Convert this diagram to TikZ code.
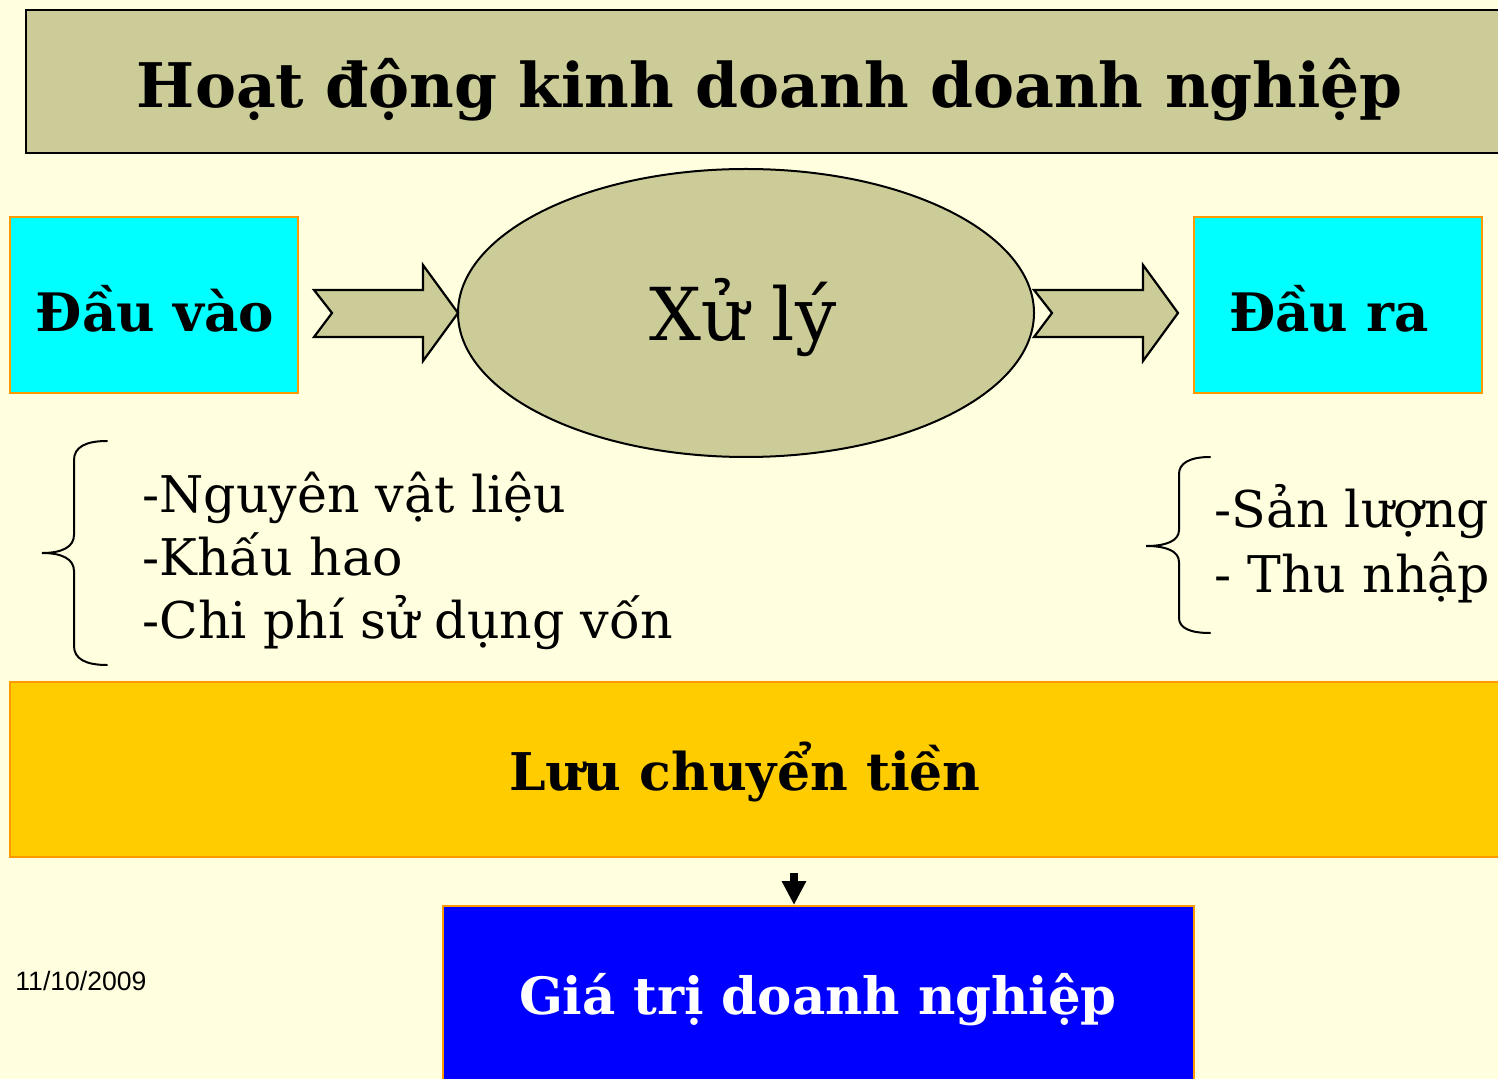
\documentclass[tikz,border=0pt]{standalone}
\usepackage{fontspec}
\setmainfont{DejaVu Serif}
\newfontfamily\datefont{Liberation Sans}
\usetikzlibrary{arrows.meta}
\definecolor{bgc}{RGB}{255,255,224}
\definecolor{olivec}{RGB}{204,204,153}
\definecolor{cyanc}{RGB}{0,255,255}
\definecolor{orangec}{RGB}{255,153,0}
\definecolor{goldc}{RGB}{255,204,0}
\definecolor{bluec}{RGB}{0,0,255}
\tikzset{
  x=0.5pt,y=-0.5pt,
  blackbox/.style={draw=black,line width=1pt,fill=olivec},
  colbox/.style={draw=orangec,line width=1pt},
  fatarrow/.style={draw=black,line width=1.1pt,fill=olivec,line join=miter},
  bracestyle/.style={draw=black,line width=1pt,line cap=round},
  listtext/.style={font=\fontsize{25.3}{30}\selectfont,anchor=base west,inner sep=0pt},
}
\begin{document}
\begin{tikzpicture}
\clip (0,0) rectangle (1498,1079);
\fill[bgc] (0,0) rectangle (1498,1079);
% title
\draw[blackbox] (26,10) rectangle (1520,153);
\node[font=\bfseries\fontsize{30.75}{36}\selectfont] (title) at (770,90) {Hoạt động kinh doanh doanh nghiệp};
% input/output boxes
\draw[colbox,fill=cyanc] (10,217) rectangle (298,393);
\node[font=\bfseries\fontsize{26.5}{30}\selectfont] (in) at (155,309) {Đầu vào};
\draw[colbox,fill=cyanc] (1194,217) rectangle (1482,393);
\node[font=\bfseries\fontsize{26.5}{30}\selectfont] (out) at (1329,309) {Đầu ra};
% ellipse
\draw[blackbox] (746,313) ellipse [x radius=288, y radius=144];
\node[font=\fontsize{36.5}{42}\selectfont] (proc) at (743,318) {Xử lý};
% fat arrows
\draw[fatarrow] (314,290) -- (423,290) -- (423,265) -- (458,313) -- (423,361) -- (423,337) -- (314,337) -- (332,313) -- cycle;
\draw[fatarrow] (1034,290) -- (1143,290) -- (1143,265) -- (1178,313) -- (1143,361) -- (1143,337) -- (1034,337) -- (1052,313) -- cycle;
% left brace and list
\draw[bracestyle] (107,441) .. controls (86,441) and (74,447) .. (74,460) -- (74,535) .. controls (74,547) and (62,553) .. (42,553) .. controls (62,553) and (74,559) .. (74,571) -- (74,646) .. controls (74,659) and (86,665) .. (107,665);
\node[listtext] (l1) at (142,512) {-Nguyên vật liệu};
\node[listtext] (l2) at (142,575) {-Khấu hao};
\node[listtext] (l3) at (142,638) {-Chi phí sử dụng vốn};
% right brace and list
\draw[bracestyle] (1210,457) .. controls (1190,457) and (1179,463) .. (1179,474) -- (1179,530) .. controls (1179,541) and (1166,546) .. (1146,546) .. controls (1166,546) and (1179,551) .. (1179,562) -- (1179,618) .. controls (1179,628) and (1190,633) .. (1210,633);
\node[listtext] (r1) at (1214,528) {-Sản lượng};
\node[listtext] (r2) at (1214,592) {- Thu nhập};
% cash flow band
\draw[colbox,fill=goldc] (10,682) rectangle (1520,857);
\node[font=\bfseries\fontsize{26}{30}\selectfont] (cash) at (745,772) {Lưu chuyển tiền};
% value box
\draw[colbox,fill=bluec] (443,906) rectangle (1194,1100);
\node[font=\bfseries\fontsize{25.7}{30}\selectfont,text=white] (val) at (818,1000) {Giá trị doanh nghiệp};
\coordinate (as) at (794,873);
\coordinate (ae) at (794,905);
\draw[line width=4pt,-{Triangle[width=11.5pt,length=12pt]}] (as) -- (ae);
% date
\node[font=\datefont\fontsize{13.3}{16}\selectfont,anchor=base west,inner sep=0pt] (date) at (15,990) {11/10/2009};
\end{tikzpicture}
\end{document}
